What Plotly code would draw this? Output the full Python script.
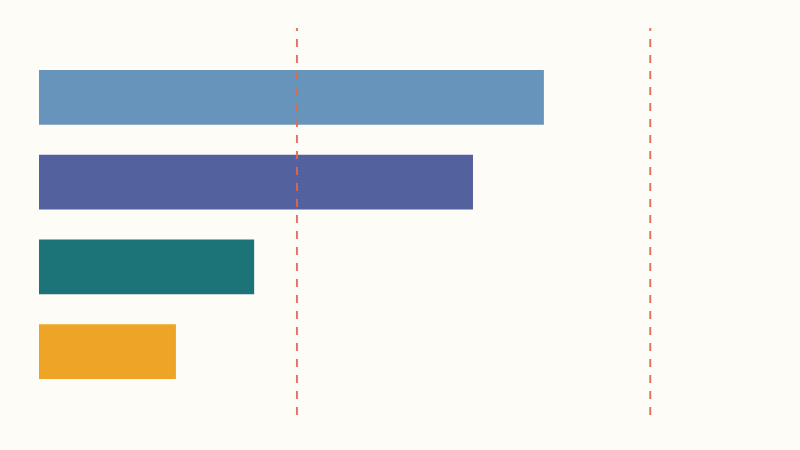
import plotly.graph_objects as go

# bars, top to bottom
categories = ["A", "B", "C", "D"]
values = [82.6, 71.0, 35.2, 22.4]
colors = ["#6794bb", "#53619f", "#1c7479", "#eda427"]

# reference lines
ref_lines = [42.2, 100.0]

fig = go.Figure()
fig.add_trace(go.Bar(
    y=list(range(len(categories))),
    x=values,
    orientation="h",
    marker=dict(color=colors, line=dict(width=0)),
    width=0.647,
    hoverinfo="skip",
    text=categories,
    textposition="none",
))

for v in ref_lines:
    fig.add_shape(type="line", x0=v, x1=v, y0=0, y1=1, xref="x", yref="paper",
                  line=dict(color="#e0694f", width=2, dash="8px,8px"),
                  opacity=0.9, layer="above")

fig.update_layout(
    width=800, height=450,
    margin=dict(l=39, r=0, t=28, b=35),
    paper_bgcolor="#fdfcf7",
    plot_bgcolor="#fdfcf7",
    showlegend=False,
    xaxis=dict(range=[0, 124.5], visible=False, fixedrange=True),
    yaxis=dict(range=[3.747, -0.818], visible=False, fixedrange=True),
)

# drop the page margin so the figure sits flush in the window
fig.write_html(
    "out.html",
    config={"displayModeBar": False},
    post_script="document.body.style.margin='0';"
                "document.body.style.background='#fdfcf7';",
)
